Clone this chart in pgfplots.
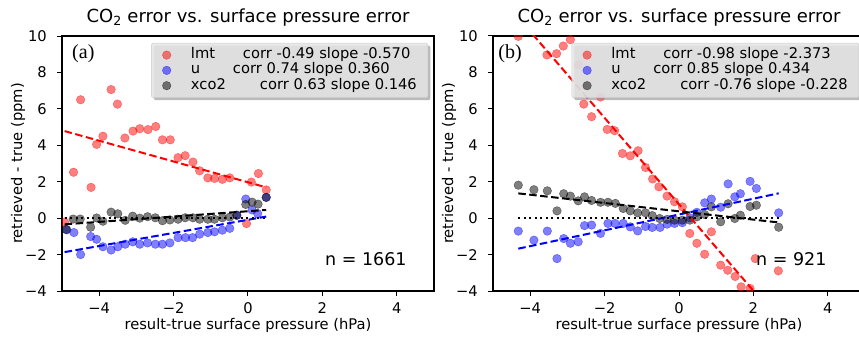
\documentclass[border=0pt]{standalone}
\usepackage{fontspec}
\setmainfont{DejaVu Sans}
\newfontfamily\seriffont{Liberation Serif}
\usepackage{pgfplots}
\usepackage{pgfplotstable}
\pgfplotsset{compat=1.18}
\usetikzlibrary{shadows}

% ---------- panel (a) ----------
\pgfplotstableread{
x y
-4.93 -0.22
-4.69 2.52
-4.50 6.50
-4.22 1.69
-4.07 4.05
-3.90 4.50
-3.68 7.06
-3.51 6.26
-3.31 4.40
-3.09 4.78
-2.91 4.91
-2.69 4.86
-2.48 5.03
-2.30 4.30
-2.09 4.30
-1.88 3.32
-1.69 3.43
-1.48 3.08
-1.30 2.60
-1.08 2.21
-0.90 2.18
-0.69 2.13
-0.49 2.21
-0.04 -0.30
0.09 1.98
0.28 2.45
0.49 1.55
}\alm
\pgfplotstableread{
x y
-4.87 -0.64
-4.68 -0.79
-4.50 -2.00
-4.23 -1.01
-4.07 -1.16
-3.90 -1.57
-3.68 -1.75
-3.50 -1.57
-3.30 -1.43
-3.10 -1.30
-2.91 -1.43
-2.70 -1.36
-2.49 -1.43
-2.30 -1.43
-2.10 -1.36
-1.88 -1.07
-1.68 -1.07
-1.49 -1.07
-1.30 -0.88
-1.08 -0.79
-0.90 -0.75
-0.69 -0.66
-0.49 -0.56
-0.30 0.17
-0.06 1.05
0.11 0.45
0.26 0.25
0.49 1.14
}\au
\pgfplotstableread{
x y
-4.89 -0.62
-4.70 -0.05
-4.51 -0.05
-4.23 -0.50
-4.07 0.01
-3.90 -0.17
-3.68 0.33
-3.50 0.24
-3.30 -0.12
-3.10 0.11
-2.91 0.00
-2.70 0.08
-2.49 0.02
-2.30 -0.14
-2.10 -0.10
-1.88 -0.06
-1.69 0.02
-1.48 0.02
-1.30 -0.06
-1.08 -0.06
-0.90 -0.06
-0.69 0.02
-0.49 0.06
-0.30 0.15
-0.06 0.75
0.11 0.88
0.27 0.77
0.49 1.14
}\ax
% ---------- panel (b) ----------
\pgfplotstableread{
x y
-4.32 9.98
-3.55 8.96
-3.29 9.03
-3.11 9.45
-2.92 9.80
-2.71 8.41
-2.56 6.26
-2.35 5.57
-2.11 6.65
-1.93 4.87
-1.73 4.80
-1.52 3.55
-1.31 3.42
-1.10 3.70
-0.90 2.78
-0.71 2.15
-0.54 1.72
-0.32 1.21
-0.12 0.90
0.09 0.62
0.29 -0.84
0.48 -1.38
0.69 -1.98
0.87 -0.75
1.12 -2.58
1.31 -2.86
1.51 -3.20
1.67 -3.77
1.91 -3.86
2.05 -2.22
2.67 -2.89
}\blm
\pgfplotstableread{
x y
-4.32 -0.71
-3.90 -1.21
-3.54 -0.71
-3.28 -2.22
-3.10 -1.12
-2.92 -1.38
-2.71 -1.30
-2.54 -0.41
-2.35 -0.38
-2.11 -0.84
-1.91 -0.29
-1.72 -0.29
-1.50 -0.29
-1.31 -0.48
-1.11 -0.70
-0.90 -0.46
-0.72 -0.51
-0.51 -0.51
-0.32 -0.33
-0.12 -0.29
0.09 -0.25
0.29 0.02
0.48 0.32
0.69 0.84
0.87 1.05
1.12 0.60
1.32 1.88
1.50 1.17
1.65 1.34
1.91 2.02
2.08 1.63
2.68 0.29
}\bu
\pgfplotstableread{
x y
-4.32 1.81
-3.90 1.56
-3.54 1.50
-3.28 0.40
-3.10 1.34
-2.92 1.21
-2.71 0.95
-2.54 1.17
-2.35 0.97
-2.11 0.87
-1.91 0.87
-1.71 0.81
-1.50 0.53
-1.31 0.40
-1.11 0.29
-0.90 0.29
-0.72 0.14
-0.52 -0.02
-0.32 -0.07
-0.12 -0.11
0.09 -0.11
0.29 -0.11
0.48 0.07
0.69 0.20
0.87 0.62
1.12 -0.20
1.32 0.79
1.50 -0.02
1.65 0.16
1.91 0.64
2.08 0.71
2.68 -0.50
}\bx

\pgfplotsset{
  base/.style={
    scale only axis, width=372pt, height=255pt,
    xmin=-5, xmax=5, ymin=-4, ymax=10,
    xtick={-4,-2,0,2,4}, xticklabels={−4,−2,0,2,4},
    ytick={-4,-2,0,2,4,6,8,10}, yticklabels={−4,−2,0,2,4,6,8,10},
    xtick pos=bottom, ytick pos=left,
    tick align=outside, major tick length=5pt,
    every tick/.style={black, line width=1pt},
    axis line style={line width=1.1pt},
    tick label style={font=\fontsize{14.7}{17}\selectfont, inner sep=0pt},
    xticklabel style={anchor=base, yshift=-17pt},
    yticklabel style={anchor=east, xshift=-10pt},
    label style={font=\fontsize{14.7}{17}\selectfont},
    xlabel={result-true surface pressure (hPa)},
    ylabel={retrieved - true (ppm)},
    xlabel style={at={(0.5,0)}, anchor=base, yshift=-38.5pt, inner sep=0pt},
    ylabel style={at={(-0.118,0.5)}, anchor=center, inner sep=0pt},
    title={CO\textsubscript{2} error vs. surface pressure error},
    every axis title shift=0pt,
    title style={at={(0.5,1)}, anchor=base, yshift=14pt, inner sep=0pt,
      font=\fontsize{18}{21}\selectfont},
    clip marker paths=true,
    legend cell align=left,
    legend style={at={(0.984,0.973)}, anchor=north east,
      draw=black!20, fill=black!10, fill opacity=0.85, text opacity=1,
      rounded corners=2pt,
      drop shadow={shadow xshift=2.5pt, shadow yshift=-2.5pt, fill=black!45, opacity=0.6},
      font=\fontsize{14.7}{15}\selectfont,
      inner xsep=11pt, inner ysep=5pt, row sep=1.3pt,
      nodes={inner sep=0pt, text height=10.5pt, text depth=3.5pt},
      /tikz/every odd column/.append style={column sep=20pt}},
  },
  scat/.style={only marks, mark=*, mark size=4.3pt, color=#1,
    mark options={fill opacity=0.5, draw opacity=0.5}},
  fit/.style={#1, line width=2pt, dash pattern=on 7.5pt off 3.5pt, forget plot},
  zero/.style={black, line width=2pt, dash pattern=on 2pt off 3.5pt, forget plot},
}

\begin{document}
\begin{tikzpicture}
\begin{axis}[base, at={(62pt,47pt)}, anchor=south west]
\addplot[scat=red] table {\alm};
\addlegendentry{\makebox[52pt][l]{lmt}corr -0.49 slope -0.570}
\addplot[scat=blue] table {\au};
\addlegendentry{\makebox[42pt][l]{u}corr 0.74 slope 0.360}
\addplot[scat=black] table {\ax};
\addlegendentry{\makebox[69pt][l]{xco2}corr 0.63 slope 0.146}
\addplot[fit=red] coordinates {(-4.93,4.78) (0.49,1.69)};
\addplot[fit=blue] coordinates {(-4.93,-1.864) (0.49,0.086)};
\addplot[fit=black] coordinates {(-4.93,-0.34) (0.49,0.45)};
\addplot[zero] coordinates {(-4.93,0) (0.49,0)};
\node[anchor=base west, inner sep=0pt, font=\seriffont\fontsize{20}{22}\selectfont] at (rel axis cs:0.027,0.911) {(a)};
\node[anchor=base west, inner sep=0pt, font=\fontsize{17.5}{20}\selectfont] at (rel axis cs:0.707,0.10) {n = 1661};
\end{axis}
\begin{axis}[base, at={(493pt,47pt)}, anchor=south west]
\addplot[scat=red] table {\blm};
\addlegendentry{\makebox[52pt][l]{lmt}corr -0.98 slope -2.373}
\addplot[scat=blue] table {\bu};
\addlegendentry{\makebox[42pt][l]{u}corr 0.85 slope 0.434}
\addplot[scat=black] table {\bx};
\addlegendentry{\makebox[69pt][l]{xco2}corr -0.76 slope -0.228}
\addplot[fit=red] coordinates {(-4.32,11.01) (2.68,-5.60)};
\addplot[fit=blue] coordinates {(-4.32,-1.675) (2.68,1.363)};
\addplot[fit=black] coordinates {(-4.32,1.36) (2.68,-0.236)};
\addplot[zero] coordinates {(-4.32,0) (2.68,0)};
\node[anchor=base west, inner sep=0pt, font=\seriffont\fontsize{20}{22}\selectfont] at (rel axis cs:0.014,0.911) {(b)};
\node[anchor=base west, inner sep=0pt, font=\fontsize{17.5}{20}\selectfont] at (rel axis cs:0.707,0.10) {n = 921};
\end{axis}
\pgfresetboundingbox
\useasboundingbox (0,0) rectangle (859pt,338pt);
\end{tikzpicture}
\end{document}
